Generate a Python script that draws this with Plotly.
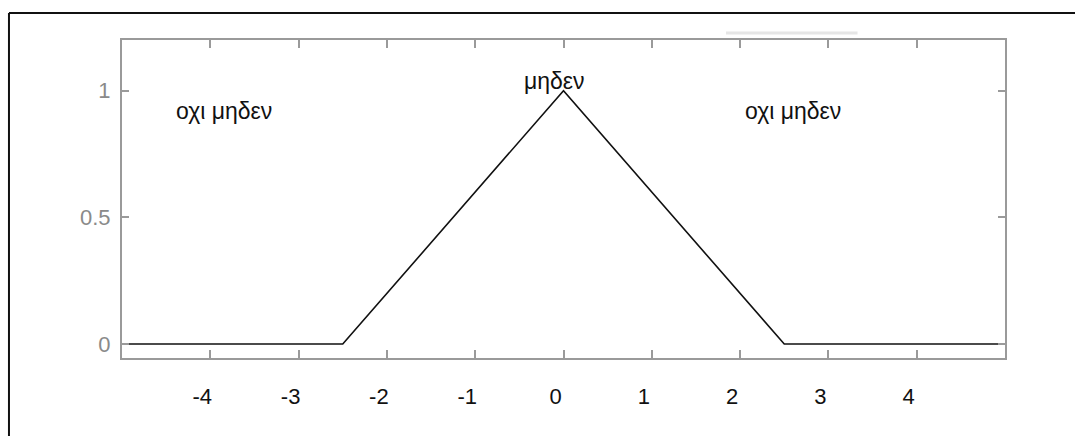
import plotly.graph_objects as go

# Membership function "μηδεν" (zero): triangular, flat zero outside [-2.5, 2.5]
x_vals = [-5, -2.5, 0, 2.5, 5]
mu_vals = [0, 0, 1, 0, 0]

x_ticks = [-4, -3, -2, -1, 0, 1, 2, 3, 4]
y_ticks = [0, 0.5, 1]
y_tick_text = ["0", "0.5", "1"]

labels = ["οχι μηδεν", "μηδεν", "οχι μηδεν"]
label_x = [-3.85, -0.1, 2.6]
label_y = [0.92, 1.04, 0.92]

axis_grey = "#9a9a9a"
font_family = "Liberation Sans, Arial, sans-serif"

fig = go.Figure()
fig.add_trace(go.Scatter(
    x=x_vals, y=mu_vals, mode="lines",
    line=dict(color="#111111", width=1.6),
    hoverinfo="skip", showlegend=False, cliponaxis=False,
))

for txt, lx, ly in zip(labels, label_x, label_y):
    fig.add_annotation(x=lx, y=ly, text=txt, showarrow=False,
                       font=dict(family=font_family, size=23, color="#111111"))

# Outer frame (top and left edges)
fig.add_shape(type="line", xref="paper", yref="paper",
              x0=-0.128, x1=1.2, y0=1.085, y1=1.085,
              line=dict(color="#111111", width=2))
fig.add_shape(type="line", xref="paper", yref="paper",
              x0=-0.128, x1=-0.128, y0=1.085, y1=-0.4,
              line=dict(color="#111111", width=2))
# Faint stroke above the plot box
fig.add_shape(type="line", xref="paper", yref="paper",
              x0=0.684, x1=0.833, y0=1.022, y1=1.022,
              line=dict(color="#e6e6e6", width=3))

fig.update_layout(
    width=1075, height=436,
    margin=dict(l=122, r=70, t=40, b=78),
    paper_bgcolor="white", plot_bgcolor="white",
    font=dict(family=font_family, size=22),
    xaxis=dict(
        range=[-5, 5], tickvals=x_ticks, ticktext=[str(v) for v in x_ticks],
        showgrid=False, zeroline=False,
        showline=True, linecolor=axis_grey, linewidth=2, mirror="allticks",
        ticks="inside", ticklen=8, tickwidth=2, tickcolor=axis_grey,
        tickfont=dict(color="#111111", size=22), ticklabelstandoff=18,
        ticklabelshift=-8,
    ),
    yaxis=dict(
        range=[-0.055, 1.2], tickvals=y_ticks, ticktext=y_tick_text,
        showgrid=False, zeroline=False,
        showline=True, linecolor=axis_grey, linewidth=2, mirror="allticks",
        ticks="inside", ticklen=7, tickwidth=2, tickcolor=axis_grey,
        tickfont=dict(color="#8a8a8a", size=22), ticklabelstandoff=5,
    ),
)

fig.write_html("out.html")
